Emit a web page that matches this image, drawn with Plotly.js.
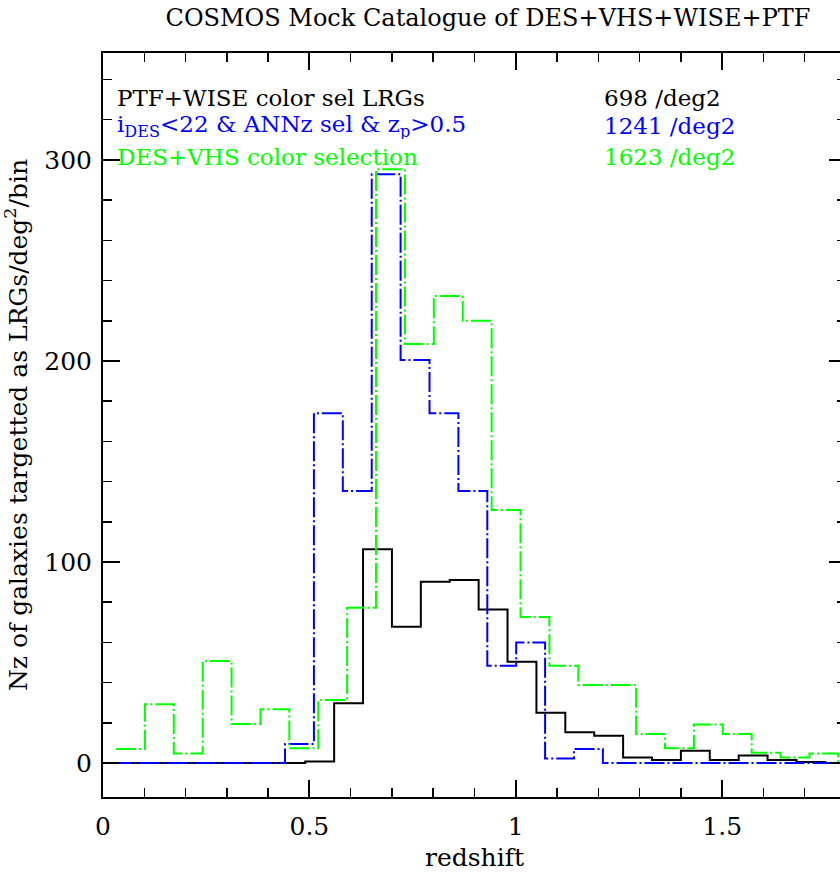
<!DOCTYPE html>
<html><head><meta charset="utf-8">
<script src="https://cdn.plot.ly/plotly-3.0.1.min.js"></script>
<style>html,body{margin:0;padding:0;overflow:hidden;background:#fff}#chart{width:900px;height:872px}</style>
</head><body><div id="chart"></div><script>
// bin width of all histograms
const binWidth = 0.07;

// PTF+WISE colour-selected LRGs (black, solid) : left bin edges and Nz values
const blackLeft = [0.00,0.07,0.14,0.21,0.28,0.35,0.42,0.49,0.56,0.63,0.70,0.77,0.84,0.91,0.98,1.05,1.12,1.19,1.26,1.33,1.40,1.47,1.54,1.61,1.68,1.75];
const blackVals = [0,0,0,0,0,0,0,0.7,29.7,106.3,67.8,90.2,91.0,76.4,50.4,25.0,15.3,13.6,2.8,1.5,6.1,1.5,3.8,1.5,0.5,0];

// iDES<22 & ANNz sel & zp>0.5 (blue, dash-dot)
const blueLeft = [0.021,0.091,0.161,0.231,0.301,0.371,0.441,0.511,0.581,0.651,0.721,0.791,0.861,0.931,1.001,1.071,1.141,1.211,1.281,1.351,1.421,1.491,1.561,1.631,1.701,1.771];
const blueVals = [0,0,0,0,0,0,9.5,174.0,135.3,292.9,200.5,174.0,135.3,48.4,60.0,2.2,7.0,0,0,0,0,0,0,0,0,0];

// DES+VHS colour selection (green, dash-dot)
const greenLeft = [0.0315,0.1015,0.1715,0.2415,0.3115,0.3815,0.4515,0.5215,0.5915,0.6615,0.7315,0.8015,0.8715,0.9415,1.0115,1.0815,1.1515,1.2215,1.2915,1.3615,1.4315,1.5015,1.5715,1.6415,1.7115,1.7815];
const greenVals = [7.0,29.2,4.8,50.7,19.4,26.7,7.3,31.3,77.3,295.4,208.5,232.3,220.0,125.9,72.6,48.4,38.8,38.8,14.4,7.3,19.2,14.4,5.1,2.7,4.8,0.6];

// legend texts
const legendNames = ['PTF+WISE color sel LRGs', 'i<sub>DES</sub>&lt;22 &amp; ANNz sel &amp; z<sub>p</sub>&gt;0.5', 'DES+VHS color selection'];
const legendDensity = ['698 /deg2', '1241 /deg2', '1623 /deg2'];
const seriesColors = ['#000000', '#0000ff', '#00ff00'];

const FONT = 'DejaVu Serif, Liberation Serif, serif';

function steps(left, vals) {
  const x = left.slice(); x.push(left[left.length - 1] + binWidth);
  const y = vals.slice(); y.push(vals[vals.length - 1]);
  return {x, y};
}
const dashdot = '20px,3px,2px,3px';
const sb = steps(blackLeft, blackVals), su = steps(blueLeft, blueVals), sg = steps(greenLeft, greenVals);
const traces = [
  {type:'scatter', mode:'lines', x:sb.x, y:sb.y, line:{shape:'hv', color:seriesColors[0], width:2}, hoverinfo:'skip', showlegend:false},
  {type:'scatter', mode:'lines', x:su.x, y:su.y, line:{shape:'hv', color:seriesColors[1], width:2, dash:dashdot}, hoverinfo:'skip', showlegend:false},
  {type:'scatter', mode:'lines', x:sg.x, y:sg.y, line:{shape:'hv', color:seriesColors[2], width:2, dash:dashdot}, hoverinfo:'skip', showlegend:false}
];

const L = 103, T = 53, PW = 743, PH = 744;
const px2x = p => (p - L) / PW, px2y = p => (T + PH - p) / PH;

const annotations = [];
const rowsY = [98, 126, 157];
for (let i = 0; i < 3; i++) {
  annotations.push({xref:'paper', yref:'paper', x:px2x(116), y:px2y(rowsY[i]), xanchor:'left', yanchor:'middle', showarrow:false,
    height:26, valign:'middle', borderpad:0,
    text:legendNames[i], font:{family:FONT, size:23, color:seriesColors[i]}});
  annotations.push({xref:'paper', yref:'paper', x:px2x(603), y:px2y(rowsY[i]), xanchor:'left', yanchor:'middle', showarrow:false,
    height:26, valign:'middle', borderpad:0,
    text:legendDensity[i], font:{family:FONT, size:23, color:seriesColors[i]}});
}

const axCommon = {
  showline:true, linecolor:'#000', linewidth:2, mirror:'ticks', ticks:'inside', ticklen:17, tickwidth:2, tickcolor:'#000',
  showgrid:false, zeroline:false, tickfont:{family:FONT, size:25, color:'#000'}
};
const layout = {
  width:900, height:872, paper_bgcolor:'#fff', plot_bgcolor:'#fff',
  margin:{l:L, t:T, r:900 - L - PW, b:872 - T - PH},
  title:{text:'COSMOS Mock Catalogue of DES+VHS+WISE+PTF', font:{family:FONT, size:24, color:'#000'},
    xref:'paper', x:px2x(488), xanchor:'center', yref:'container', y:1 - 18/872, yanchor:'middle'},
  xaxis:Object.assign({}, axCommon, {range:[0,1.8], tick0:0, dtick:0.5, ticklabelstandoff:6,
    minor:{tick0:0, dtick:0.1, ticks:'inside', ticklen:9, tickwidth:1.5, tickcolor:'#000', showgrid:false},
    title:{text:'redshift', font:{family:FONT, size:25, color:'#000'}, standoff:8}}),
  yaxis:Object.assign({}, axCommon, {range:[-16.9,353.2], tick0:0, dtick:100, ticklabelstandoff:4,
    minor:{tick0:0, dtick:20, ticks:'inside', ticklen:9, tickwidth:1.5, tickcolor:'#000', showgrid:false},
    title:{text:'Nz of galaxies targetted as LRGs/deg<sup>2</sup>/bin', font:{family:FONT, size:25, color:'#000'}, standoff:10}}),
  annotations:annotations,
  showlegend:false
};
Plotly.newPlot('chart', traces, layout, {displayModeBar:false, staticPlot:true});
</script></body></html>
